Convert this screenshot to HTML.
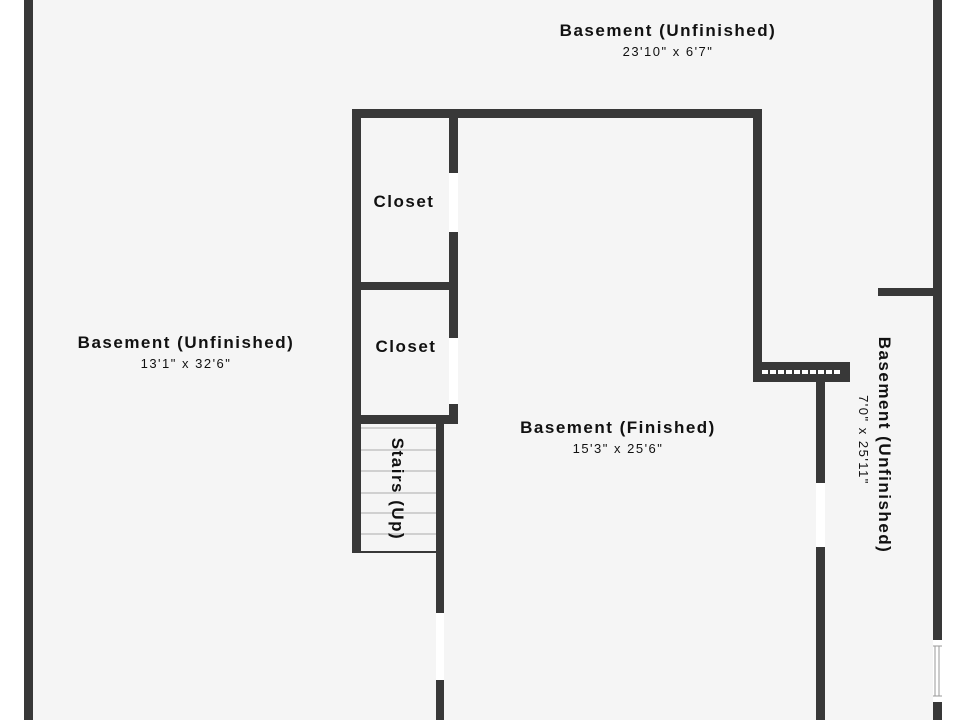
<!DOCTYPE html>
<html><head><style>body{margin:0;background:#fff}svg{display:block}text{font-family:"Liberation Sans",sans-serif;fill:#111}</style></head><body>
<svg width="960" height="720" viewBox="0 0 960 720" xmlns="http://www.w3.org/2000/svg">
<rect x="0" y="0" width="960" height="720" fill="#fff"/>
<rect x="32" y="0" width="901" height="720" fill="#f5f5f5"/>
<g fill="#383838">
<rect x="24" y="0" width="9" height="720"/>
<rect x="933" y="0" width="9" height="720"/>
<rect x="352" y="109" width="410" height="9"/>
<rect x="352" y="109" width="9" height="444"/>
<rect x="449" y="109" width="9" height="315"/>
<rect x="352" y="282" width="106" height="8"/>
<rect x="352" y="415" width="106" height="9"/>
<rect x="436" y="415" width="8" height="305"/>
<rect x="753" y="109" width="9" height="273"/>
<rect x="753" y="362" width="97" height="20"/>
<rect x="816" y="380" width="9" height="340"/>
<rect x="878" y="288" width="62" height="8"/>
</g>
<g fill="#fff">
<rect x="449" y="173" width="9" height="59"/>
<rect x="449" y="338" width="9" height="66"/>
<rect x="436" y="613" width="8" height="67"/>
<rect x="816" y="483" width="9" height="64"/>
<rect x="933" y="640" width="9" height="62"/>
</g>
<line x1="762" y1="372" x2="842" y2="372" stroke="#fff" stroke-width="4" stroke-dasharray="6 2"/>
<g stroke="#999" stroke-width="1">
<line x1="935" y1="646" x2="935" y2="696"/><line x1="939" y1="646" x2="939" y2="696"/>
<line x1="933" y1="646" x2="942" y2="646"/><line x1="933" y1="696" x2="942" y2="696"/>
</g>
<g stroke="#aaa" stroke-width="1">
<line x1="361" y1="428" x2="436" y2="428"/><line x1="361" y1="450" x2="436" y2="450"/>
<line x1="361" y1="471" x2="436" y2="471"/><line x1="361" y1="493" x2="436" y2="493"/>
<line x1="361" y1="513" x2="436" y2="513"/><line x1="361" y1="534" x2="436" y2="534"/>
</g>
<line x1="352" y1="552" x2="436" y2="552" stroke="#383838" stroke-width="2"/>
<g text-anchor="middle" font-weight="bold" font-size="17" letter-spacing="1.5">
<text x="668" y="36">Basement (Unfinished)</text>
<text x="186" y="348">Basement (Unfinished)</text>
<text x="618" y="433">Basement (Finished)</text>
<text x="404" y="207">Closet</text>
<text x="406" y="352">Closet</text>
<text transform="translate(392,489) rotate(90)">Stairs (Up)</text>
<text transform="translate(879,445) rotate(90)">Basement (Unfinished)</text>
</g>
<g text-anchor="middle" font-size="13" letter-spacing="1.5">
<text x="668" y="56">23'10" x 6'7"</text>
<text x="186" y="368">13'1" x 32'6"</text>
<text x="618" y="453">15'3" x 25'6"</text>
<text transform="translate(859,440) rotate(90)">7'0" x 25'11"</text>
</g>
</svg>
</body></html>
